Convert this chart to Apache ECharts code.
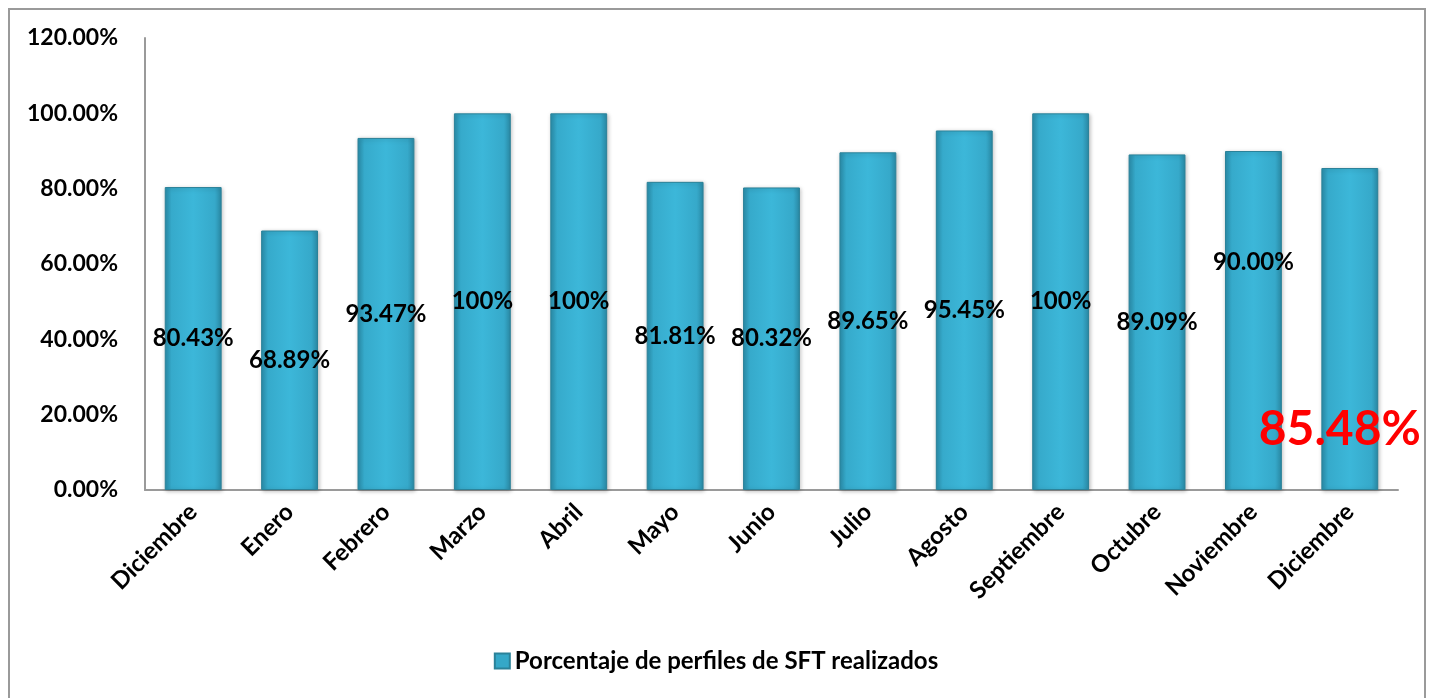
<!DOCTYPE html>
<html><head><meta charset="utf-8">
<script src="https://cdn.jsdelivr.net/npm/echarts@6/dist/echarts.min.js"></script>
<style>html,body{margin:0;padding:0;background:#fff}#c{width:1432px;height:698px}
#frame{position:absolute;left:8px;top:8px;width:1418px;height:700px;border:2px solid #9a9a9a;box-sizing:border-box;pointer-events:none}</style>
</head><body><div id="c"></div><div id="frame"></div>
<script>
const categories = ['Diciembre','Enero','Febrero','Marzo','Abril','Mayo','Junio','Julio','Agosto','Septiembre','Octubre','Noviembre','Diciembre'];
const values = [80.43, 68.89, 93.47, 100, 100, 81.81, 80.32, 89.65, 95.45, 100, 89.09, 90.00, 85.48];
const labelTexts = ['80.43%','68.89%','93.47%','100%','100%','81.81%','80.32%','89.65%','95.45%','100%','89.09%','90.00%','85.48%'];
const seriesName = 'Porcentaje de perfiles de SFT realizados';

const font = 'Lato, "Open Sans", sans-serif';
const barColor = {
  type: 'linear', x: 0, y: 0, x2: 1, y2: 0,
  colorStops: [
    {offset: 0, color: '#2a8eab'},
    {offset: 0.12, color: '#36aacb'},
    {offset: 0.5, color: '#3cb7d9'},
    {offset: 0.88, color: '#36a9ca'},
    {offset: 1, color: '#2a8aa6'}
  ]
};
const data = values.map((v, i) => {
  const d = {value: v};
  if (i === 11) d.label = {offset: [0, -58]};
  if (i === 12) d.label = {offset: [-10, 101], color: '#ff0000', fontSize: 48};
  return d;
});
const chart = echarts.init(document.getElementById('c'));
chart.setOption({
  animation: false,
  grid: {left: 145, right: 34, top: 38, bottom: 208},
  legend: {
    bottom: 20, left: 'center', itemWidth: 15, itemHeight: 15, icon: 'rect', itemGap: 6,
    textStyle: {fontFamily: font, fontWeight: 'bold', fontSize: 24, color: '#000'},
    data: [{name: seriesName, itemStyle: {color: '#35a8c8'}}]
  },
  xAxis: {
    type: 'category', data: categories,
    axisLine: {lineStyle: {color: '#9a9a9a', width: 2}},
    axisTick: {show: false},
    axisLabel: {rotate: 45, interval: 0, margin: 18, fontFamily: font, fontWeight: 'bold', fontSize: 24, color: '#000'}
  },
  yAxis: {
    type: 'value', min: 0, max: 120, interval: 20,
    splitLine: {show: false},
    axisLine: {show: true, lineStyle: {color: '#9a9a9a', width: 2}},
    axisTick: {show: false},
    axisLabel: {margin: 27, formatter: v => v.toFixed(2) + '%', fontFamily: font, fontWeight: 'bold', fontSize: 23, color: '#000'}
  },
  series: [{
    name: seriesName, type: 'bar', data: data, barCategoryGap: '41%',
    itemStyle: {color: barColor, borderColor: '#2b8299', borderWidth: 1,
      shadowColor: 'rgba(0,0,0,0.25)', shadowBlur: 4, shadowOffsetX: 1, shadowOffsetY: 1},
    label: {show: true, position: 'inside', fontFamily: font, fontWeight: 'bold', fontSize: 24, color: '#000',
      formatter: p => labelTexts[p.dataIndex]}
  }]
});
</script></body></html>
